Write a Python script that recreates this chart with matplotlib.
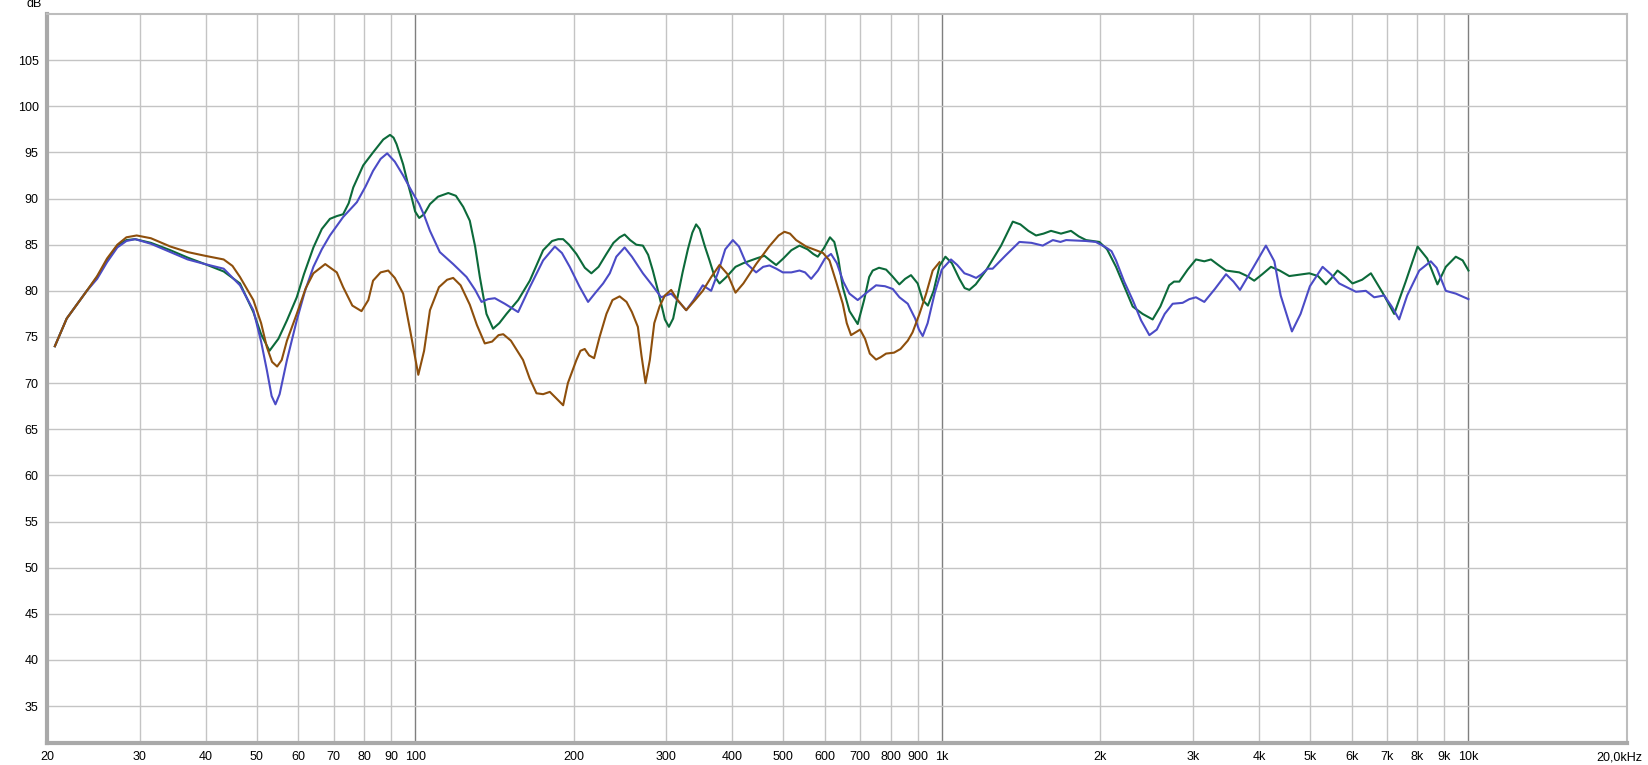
import matplotlib
matplotlib.use("Agg")
import matplotlib.pyplot as plt
from matplotlib.transforms import ScaledTranslation

plt.rcParams['font.family'] = ['Liberation Sans', 'DejaVu Sans']

# frequency response data (Hz, dB)
green_f = [20.7, 21.8, 23.8, 24.9, 26.0, 27.2, 28.3, 29.4, 31.5, 34.3, 37.0, 39.9, 43.3, 46.5, 49.3,
           51.0, 52.9, 55.0, 57.1, 59.6, 61.5, 64.1, 66.5, 68.9, 71.0, 73.0, 74.8, 76.3, 79.7, 83.2,
           87.0, 89.6, 91.0, 92.2, 94.9, 96.7, 98.5, 100.0, 101.8, 104.0, 106.7, 110.5, 115.6, 119.5, 123.4,
           127.0, 130.0, 132.7, 136.6, 140.6, 144.5, 149.1, 156.9, 165.1, 175.0, 182.0, 187.0, 191.0, 196.0,
           202.4, 210.0, 216.1, 223.0, 230.8, 238.0, 244.5, 249.9, 256.0, 263.0, 270.7, 277.0, 282.7, 288.0,
           293.2, 298.0, 303.3, 309.0, 315.4, 322.0, 329.5, 336.0, 341.6, 347.0, 355.0, 362.2, 370.0, 378.4,
           390.0, 405.8, 420.0, 444.1, 460.5, 472.0, 484.8, 500.0, 518.0, 536.8, 556.0, 570.0, 581.5, 597.0,
           613.3, 625.0, 636.0, 648.6, 668.0, 692.4, 712.0, 728.0, 739.4, 760.0, 783.9, 805.0, 830.5, 852.0,
           874.0, 900.0, 920.0, 941.0, 965.0, 990.0, 1016, 1045, 1080, 1105, 1128, 1160, 1213, 1296,
           1364, 1410, 1460, 1510, 1560, 1612, 1684, 1759, 1820, 1879, 1991, 2060, 2142, 2220, 2304, 2406,
           2514, 2600, 2703, 2760, 2825, 2930, 3038, 3151, 3244, 3350, 3465, 3671, 3800, 3919, 4060, 4217,
           4380, 4568, 4987, 5180, 5362, 5500, 5642, 5850, 6023, 6280, 6528, 6870, 7227, 7600, 8006, 8350,
           8732, 9057, 9461, 9750, 10000]
green_db = [74.0, 77.0, 80.0, 81.5, 83.3, 84.9, 85.5, 85.6, 85.2, 84.4, 83.6, 82.9, 82.1, 80.8, 77.7,
            75.3, 73.5, 74.8, 76.8, 79.3, 81.8, 84.7, 86.7, 87.8, 88.1, 88.3, 89.5, 91.2, 93.6, 95.0,
            96.4, 96.9, 96.6, 95.9, 93.7, 91.8, 90.1, 88.6, 87.9, 88.3, 89.4, 90.2, 90.6, 90.3, 89.1,
            87.6, 84.8, 81.5, 77.5, 75.9, 76.5, 77.5, 79.0, 81.1, 84.4, 85.4, 85.6, 85.6, 85.0,
            84.0, 82.5, 81.9, 82.6, 84.0, 85.2, 85.8, 86.1, 85.5, 85.0, 84.9, 83.9, 82.2, 80.4,
            78.6, 76.9, 76.1, 77.0, 79.5, 82.0, 84.5, 86.3, 87.2, 86.7, 84.8, 83.3, 81.6, 80.8,
            81.5, 82.6, 83.0, 83.5, 83.8, 83.3, 82.8, 83.5, 84.4, 84.9, 84.5, 84.0, 83.7, 84.6,
            85.8, 85.3, 83.5, 80.4, 77.8, 76.4, 79.0, 81.5, 82.2, 82.5, 82.3, 81.6, 80.7, 81.3,
            81.7, 80.8, 79.0, 78.4, 80.0, 82.7, 83.7, 83.0, 81.3, 80.3, 80.1, 80.7, 82.2, 84.9,
            87.5, 87.2, 86.5, 86.0, 86.2, 86.5, 86.2, 86.5, 85.9, 85.5, 85.3, 84.5, 82.6, 80.5, 78.3, 77.5,
            76.9, 78.3, 80.6, 81.0, 81.0, 82.3, 83.4, 83.2, 83.4, 82.8, 82.2, 82.0, 81.6, 81.1, 81.8, 82.6,
            82.2, 81.6, 81.9, 81.6, 80.7, 81.4, 82.2, 81.5, 80.8, 81.2, 81.9, 79.8, 77.5, 81.0, 84.8, 83.5,
            80.7, 82.6, 83.7, 83.3, 82.2]

blue_f = [20.7, 21.8, 23.8, 24.9, 26.0, 27.2, 28.3, 29.4, 31.5, 34.3, 37.0, 39.9, 43.3, 46.5, 49.3,
          51.0, 52.3, 53.4, 54.3, 55.3, 57.1, 59.6, 61.8, 64.1, 66.5, 68.9, 73.0, 77.5, 80.5, 83.2,
          86.0, 88.5, 91.5, 94.9, 98.5, 101.8, 104.0, 106.7, 111.4, 118.1, 125.2, 130.0, 133.7, 137.5, 141.7,
          148.0, 156.9, 165.1, 175.0, 184.2, 190.0, 196.6, 205.0, 213.0, 220.0, 227.5, 234.2, 241.0, 249.9,
          258.0, 270.7, 282.0, 293.2, 306.3, 316.0, 327.1, 338.0, 351.7, 364.8, 376.0, 388.0, 401.1, 412.0,
          425.0, 444.1, 458.0, 470.8, 485.0, 499.1, 518.0, 536.8, 550.0, 564.9, 582.0, 600.0, 616.1, 632.0,
          650.0, 667.8, 692.4, 720.0, 750.2, 780.0, 807.1, 831.0, 861.8, 890.0, 905.0, 920.0, 940.0, 970.0,
          1000, 1041, 1070, 1104, 1130, 1162, 1190, 1222, 1249, 1320, 1404, 1480, 1555, 1625, 1680, 1722,
          1879, 1960, 2050, 2100, 2142, 2220, 2304, 2390, 2478, 2560, 2650, 2744, 2866, 2951, 3038, 3151,
          3300, 3465, 3580, 3683, 3900, 4125, 4280, 4400, 4622, 4800, 5000, 5285, 5480, 5684, 6114, 6386,
          6622, 6917, 7150, 7386, 7650, 8065, 8481, 8700, 9057, 9461, 10000]
blue_db = [74.0, 77.0, 80.0, 81.3, 83.1, 84.7, 85.4, 85.6, 85.1, 84.2, 83.4, 82.9, 82.4, 80.6, 77.9,
           74.5, 71.4, 68.6, 67.7, 68.8, 72.5, 76.8, 80.0, 82.6, 84.5, 86.0, 88.0, 89.6, 91.3, 93.0,
           94.3, 94.9, 94.0, 92.5, 90.8, 89.4, 88.2, 86.5, 84.2, 82.9, 81.5, 80.1, 78.8, 79.1, 79.2,
           78.6, 77.7, 80.4, 83.3, 84.8, 84.1, 82.6, 80.5, 78.8, 79.8, 80.8, 81.9, 83.7, 84.7,
           83.7, 81.9, 80.6, 79.3, 79.7, 78.9, 77.9, 79.0, 80.6, 80.0, 82.0, 84.5, 85.5, 84.8,
           83.0, 82.0, 82.6, 82.75, 82.4, 82.0, 82.0, 82.2, 82.0, 81.3, 82.2, 83.5, 84.0, 83.0,
           81.0, 79.7, 79.0, 79.8, 80.6, 80.5, 80.2, 79.3, 78.6, 77.0, 75.8, 75.1, 76.5, 79.8,
           82.3, 83.4, 82.8, 81.9, 81.7, 81.4, 81.8, 82.4, 82.4, 83.8, 85.3, 85.2, 84.9, 85.5, 85.3, 85.5,
           85.4, 85.3, 84.7, 84.3, 83.3, 81.0, 79.0, 76.8, 75.2, 75.8, 77.5, 78.6, 78.7, 79.1, 79.3, 78.8,
           80.2, 81.8, 81.0, 80.1, 82.5, 84.9, 83.2, 79.5, 75.6, 77.5, 80.5, 82.6, 81.8, 80.8, 79.9, 80.0,
           79.3, 79.5, 78.3, 76.9, 79.5, 82.2, 83.2, 82.5, 80.0, 79.7, 79.1]

orange_f = [20.7, 21.8, 23.8, 24.9, 26.0, 27.2, 28.3, 29.6, 31.5, 34.3, 37.0, 39.9, 43.3, 45.0, 46.5,
            49.3, 51.0, 52.3, 53.5, 54.7, 55.8, 57.1, 59.6, 62.0, 64.1, 67.5, 71.0, 73.0, 76.0, 79.1,
            81.5, 83.2, 86.0, 88.9, 91.5, 94.9, 98.0, 101.4, 104.0, 106.7, 111.0, 115.0, 118.1, 122.0, 127.0,
            131.0, 135.6, 140.0, 144.0, 147.0, 152.0, 160.3, 165.0, 170.0, 175.0, 180.2, 185.0, 191.0, 195.0,
            202.4, 206.0, 209.9, 214.0, 218.7, 224.0, 230.8, 237.0, 244.5, 252.0, 258.0, 264.8, 269.0, 273.8,
            279.0, 284.5, 291.1, 298.0, 306.3, 315.0, 327.1, 340.0, 351.7, 365.0, 378.4, 392.0, 405.8, 420.0,
            444.1, 470.0, 490.0, 502.6, 515.0, 529.0, 552.7, 577.0, 595.0, 611.9, 630.0, 648.6, 660.0, 672.5,
            686.0, 699.7, 715.0, 730.0, 750.2, 765.0, 783.9, 811.5, 835.0, 861.8, 880.0, 907.0, 934.0, 961.0,
            990.0]
orange_db = [74.0, 77.0, 80.0, 81.6, 83.5, 85.0, 85.8, 86.0, 85.7, 84.8, 84.2, 83.8, 83.4, 82.7, 81.5,
             79.0, 76.5, 73.9, 72.3, 71.8, 72.5, 74.6, 77.5, 80.3, 81.9, 82.9, 82.0, 80.4, 78.4, 77.8,
             79.0, 81.1, 82.0, 82.2, 81.4, 79.7, 75.5, 70.9, 73.5, 77.9, 80.4, 81.2, 81.4, 80.6, 78.5,
             76.3, 74.3, 74.5, 75.2, 75.3, 74.6, 72.5, 70.5, 68.9, 68.8, 69.05, 68.4, 67.6, 70.0,
             72.5, 73.5, 73.7, 73.0, 72.7, 75.0, 77.5, 79.0, 79.4, 78.8, 77.7, 76.1, 73.0, 70.0,
             72.5, 76.5, 78.3, 79.5, 80.1, 79.0, 77.9, 79.0, 80.0, 81.5, 82.8, 81.8, 79.8, 80.8,
             82.9, 84.8, 86.0, 86.4, 86.2, 85.5, 84.8, 84.4, 84.1, 83.3, 81.0, 78.6, 76.5, 75.2,
             75.5, 75.8, 74.8, 73.2, 72.55, 72.8, 73.2, 73.3, 73.7, 74.6, 75.5, 77.5, 79.7, 82.2,
             83.1]

x_ticks = [20, 30, 40, 50, 60, 70, 80, 90, 100, 200, 300, 400, 500, 600, 700, 800, 900,
           1000, 2000, 3000, 4000, 5000, 6000, 7000, 8000, 9000, 10000, 20000]
x_labels = ['20', '30', '40', '50', '60', '70', '80', '90', '100', '200', '300', '400', '500',
            '600', '700', '800', '900', '1k', '2k', '3k', '4k', '5k', '6k', '7k', '8k', '9k', '10k',
            '20,0kHz']
y_ticks = list(range(35, 110, 5))

W, H = 1649, 765
fig = plt.figure(figsize=(W / 100, H / 100), dpi=100)
ax = fig.add_axes([47 / W, 22 / H, (1627 - 47) / W, (743 - 14) / H])

ax.set_xscale('log')
ax.set_xlim(20, 20000)
ax.set_ylim(31, 110)
ax.set_xticks(x_ticks)
ax.set_xticklabels(x_labels)
ax.xaxis.set_minor_locator(matplotlib.ticker.NullLocator())
ax.set_yticks(y_ticks)
ax.tick_params(length=0, labelsize=9, colors='black', pad=6)

# grid: decades a bit darker
for f in x_ticks[1:-1]:
    dark = f in (100, 1000, 10000)
    ax.axvline(f, color='#7f7f7f' if dark else '#c4c4c4', lw=1.0, zorder=0)
for v in y_ticks:
    ax.axhline(v, color='#c4c4c4', lw=1.0, zorder=0)

for side in ('top', 'right'):
    ax.spines[side].set_color('#bdbdbd')
    ax.spines[side].set_linewidth(1.5)
for side in ('left', 'bottom'):
    ax.spines[side].set_color('#a9a9a9')
    ax.spines[side].set_linewidth(3)

ax.plot(green_f, green_db, color='#0c6a3a', lw=1.5, solid_joinstyle='round')
ax.plot(blue_f, blue_db, color='#4b4bc6', lw=1.5, solid_joinstyle='round')
ax.plot(orange_f, orange_db, color='#8e4f0c', lw=1.5, solid_joinstyle='round')

lab = ax.get_xticklabels()[-1]
lab.set_transform(lab.get_transform() + ScaledTranslation(-0.08, 0, fig.dpi_scale_trans))

fig.text(42 / W, 1 - 4 / H, 'dB', ha='right', va='center', fontsize=9)

fig.savefig('out.png', dpi=100)
